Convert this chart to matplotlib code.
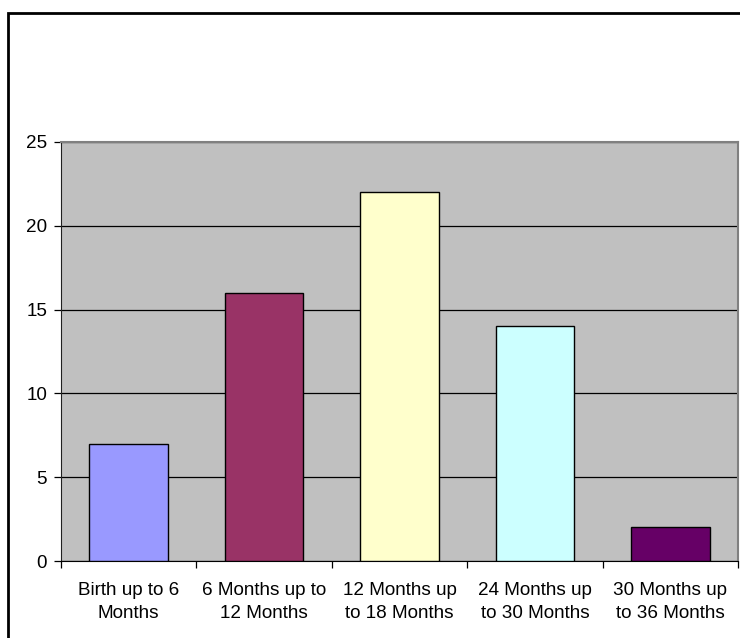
import matplotlib.pyplot as plt
import numpy as np
from matplotlib.patches import Rectangle

plt.rcParams['font.family'] = ['Liberation Sans', 'DejaVu Sans']

categories = ['Birth up to 6\nMonths', '6 Months up to\n12 Months', '12 Months up\nto 18 Months',
              '24 Months up\nto 30 Months', '30 Months up\nto 36 Months']
counts = [7, 16, 22, 14, 2]
colors = ['#9999FF', '#993366', '#FFFFCC', '#CCFFFF', '#660066']

fig = plt.figure(figsize=(7.4, 6.38), dpi=100)
# chart frame
fig.patches.append(Rectangle((8 / 740, -0.05), 1.0, 1 - 13 / 638 + 0.05, transform=fig.transFigure,
                             fill=False, edgecolor='black', linewidth=2))

ax = fig.add_axes([61 / 740, 77 / 638, 677 / 740, 419 / 638])
ax.set_facecolor('#C0C0C0')
x = np.arange(len(counts))
ax.bar(x, counts, width=0.58, color=colors, edgecolor='black', linewidth=1, zorder=3)

ax.set_xlim(-0.5, len(counts) - 0.5)
ax.set_ylim(0, 25)
ax.set_yticks(range(0, 26, 5))
ax.yaxis.grid(True, color='black', linewidth=0.9, zorder=1)
ax.set_axisbelow(True)

ax.set_xticks(x)
ax.set_xticklabels(categories, fontsize=13.6, linespacing=1.5)
ax.set_xticks(np.arange(-0.5, len(counts)), minor=True)
ax.tick_params(axis='x', which='major', length=0, pad=15)
ax.tick_params(axis='x', which='minor', length=5, width=0.9, direction='out')
ax.tick_params(axis='y', length=5, width=0.9, labelsize=13.6, pad=5)

for side in ['top', 'right']:
    ax.spines[side].set_color('#808080')
    ax.spines[side].set_linewidth(1.5)
ax.spines['left'].set_color('#202020')
ax.spines['bottom'].set_color('black')

plt.savefig('out.png', dpi=100)
